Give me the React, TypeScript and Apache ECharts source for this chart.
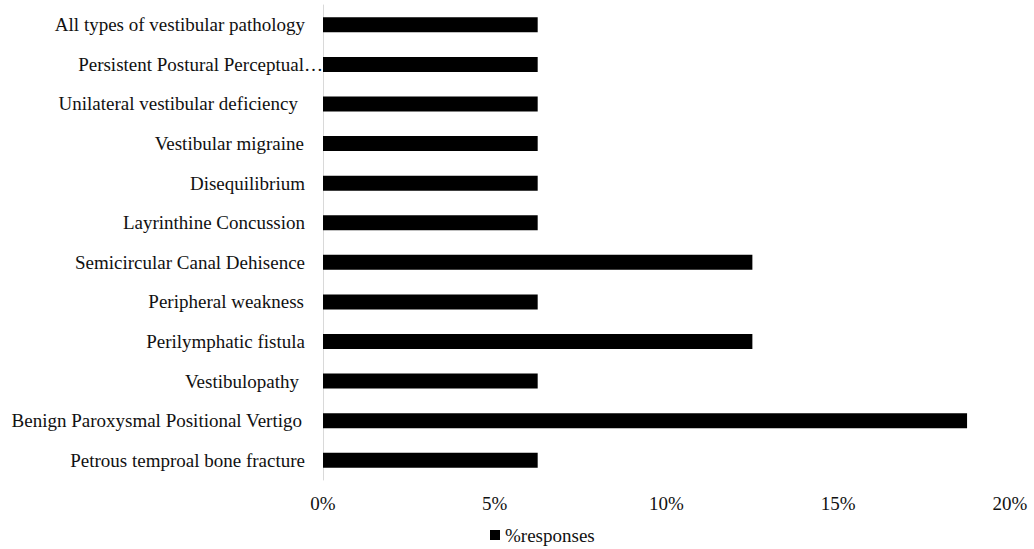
import React, { useEffect, useRef } from "react";
import * as echarts from "echarts";

// Categories listed bottom-to-top (ECharts category y-axis starts at the bottom)
const categories = [
  "Petrous temproal bone fracture",
  "Benign Paroxysmal Positional Vertigo",
  "Vestibulopathy",
  "Perilymphatic fistula",
  "Peripheral weakness",
  "Semicircular Canal Dehisence",
  "Layrinthine Concussion",
  "Disequilibrium",
  "Vestibular migraine",
  "Unilateral vestibular deficiency",
  "Persistent Postural Perceptual…",
  "All types of vestibular pathology",
];

// Share of responses per condition (fraction)
const responses = [
  0.0625, 0.1875, 0.0625, 0.125, 0.0625, 0.125, 0.0625, 0.0625, 0.0625,
  0.0625, 0.0625, 0.0625,
];

// Extra right-hand gap of a few labels (trailing space in the source text)
const labelGap = [0, 3, 6, 0, 1, 0, 0, 0, 1, 7, -18, 0];

const xTicks = [0, 0.05, 0.1, 0.15, 0.2];

const FONT = "'Liberation Serif', 'DejaVu Serif', serif";
const FS = 19;

export default function App() {
  const ref = useRef<HTMLDivElement>(null);

  useEffect(() => {
    if (!ref.current) return;
    const chart = echarts.init(ref.current, null, { renderer: "svg" });
    chart.setOption({
      animation: false,
      textStyle: { fontFamily: FONT },
      grid: { left: 323, right: 24, top: 5, bottom: 69, containLabel: false },
      legend: {
        data: ["%responses"],
        left: 485,
        top: 522,
        padding: [3, 5, 2, 5],
        itemWidth: 10,
        itemHeight: 10,
        icon: "rect",
        textStyle: { fontFamily: FONT, fontSize: FS, color: "#111", lineHeight: 20 },
      },
      xAxis: {
        type: "value",
        min: xTicks[0],
        max: xTicks[xTicks.length - 1],
        interval: 0.05,
        axisLine: { show: false },
        axisTick: { show: false },
        splitLine: { show: false },
        axisLabel: {
          margin: 14,
          fontFamily: FONT,
          fontSize: FS,
          color: "#111",
          formatter: (v: number) => `${Math.round(v * 100)}%`,
        },
      },
      yAxis: {
        type: "category",
        data: categories.map((c, i) => ({
          value: c,
          textStyle: { padding: [0, labelGap[i], 0, 0] },
        })),
        axisLine: { show: true, lineStyle: { color: "#d9d9d9", width: 1 } },
        axisTick: { show: false },
        axisLabel: {
          margin: 18,
          fontFamily: FONT,
          fontSize: FS,
          color: "#111",
        },
      },
      series: [
        {
          name: "%responses",
          type: "bar",
          data: responses,
          barWidth: 15,
          itemStyle: { color: "#000" },
        },
      ],
    });
    return () => chart.dispose();
  }, []);

  return <div ref={ref} style={{ width: 1034, height: 549, position: "absolute", left: 0, top: 0 }} />;
}
